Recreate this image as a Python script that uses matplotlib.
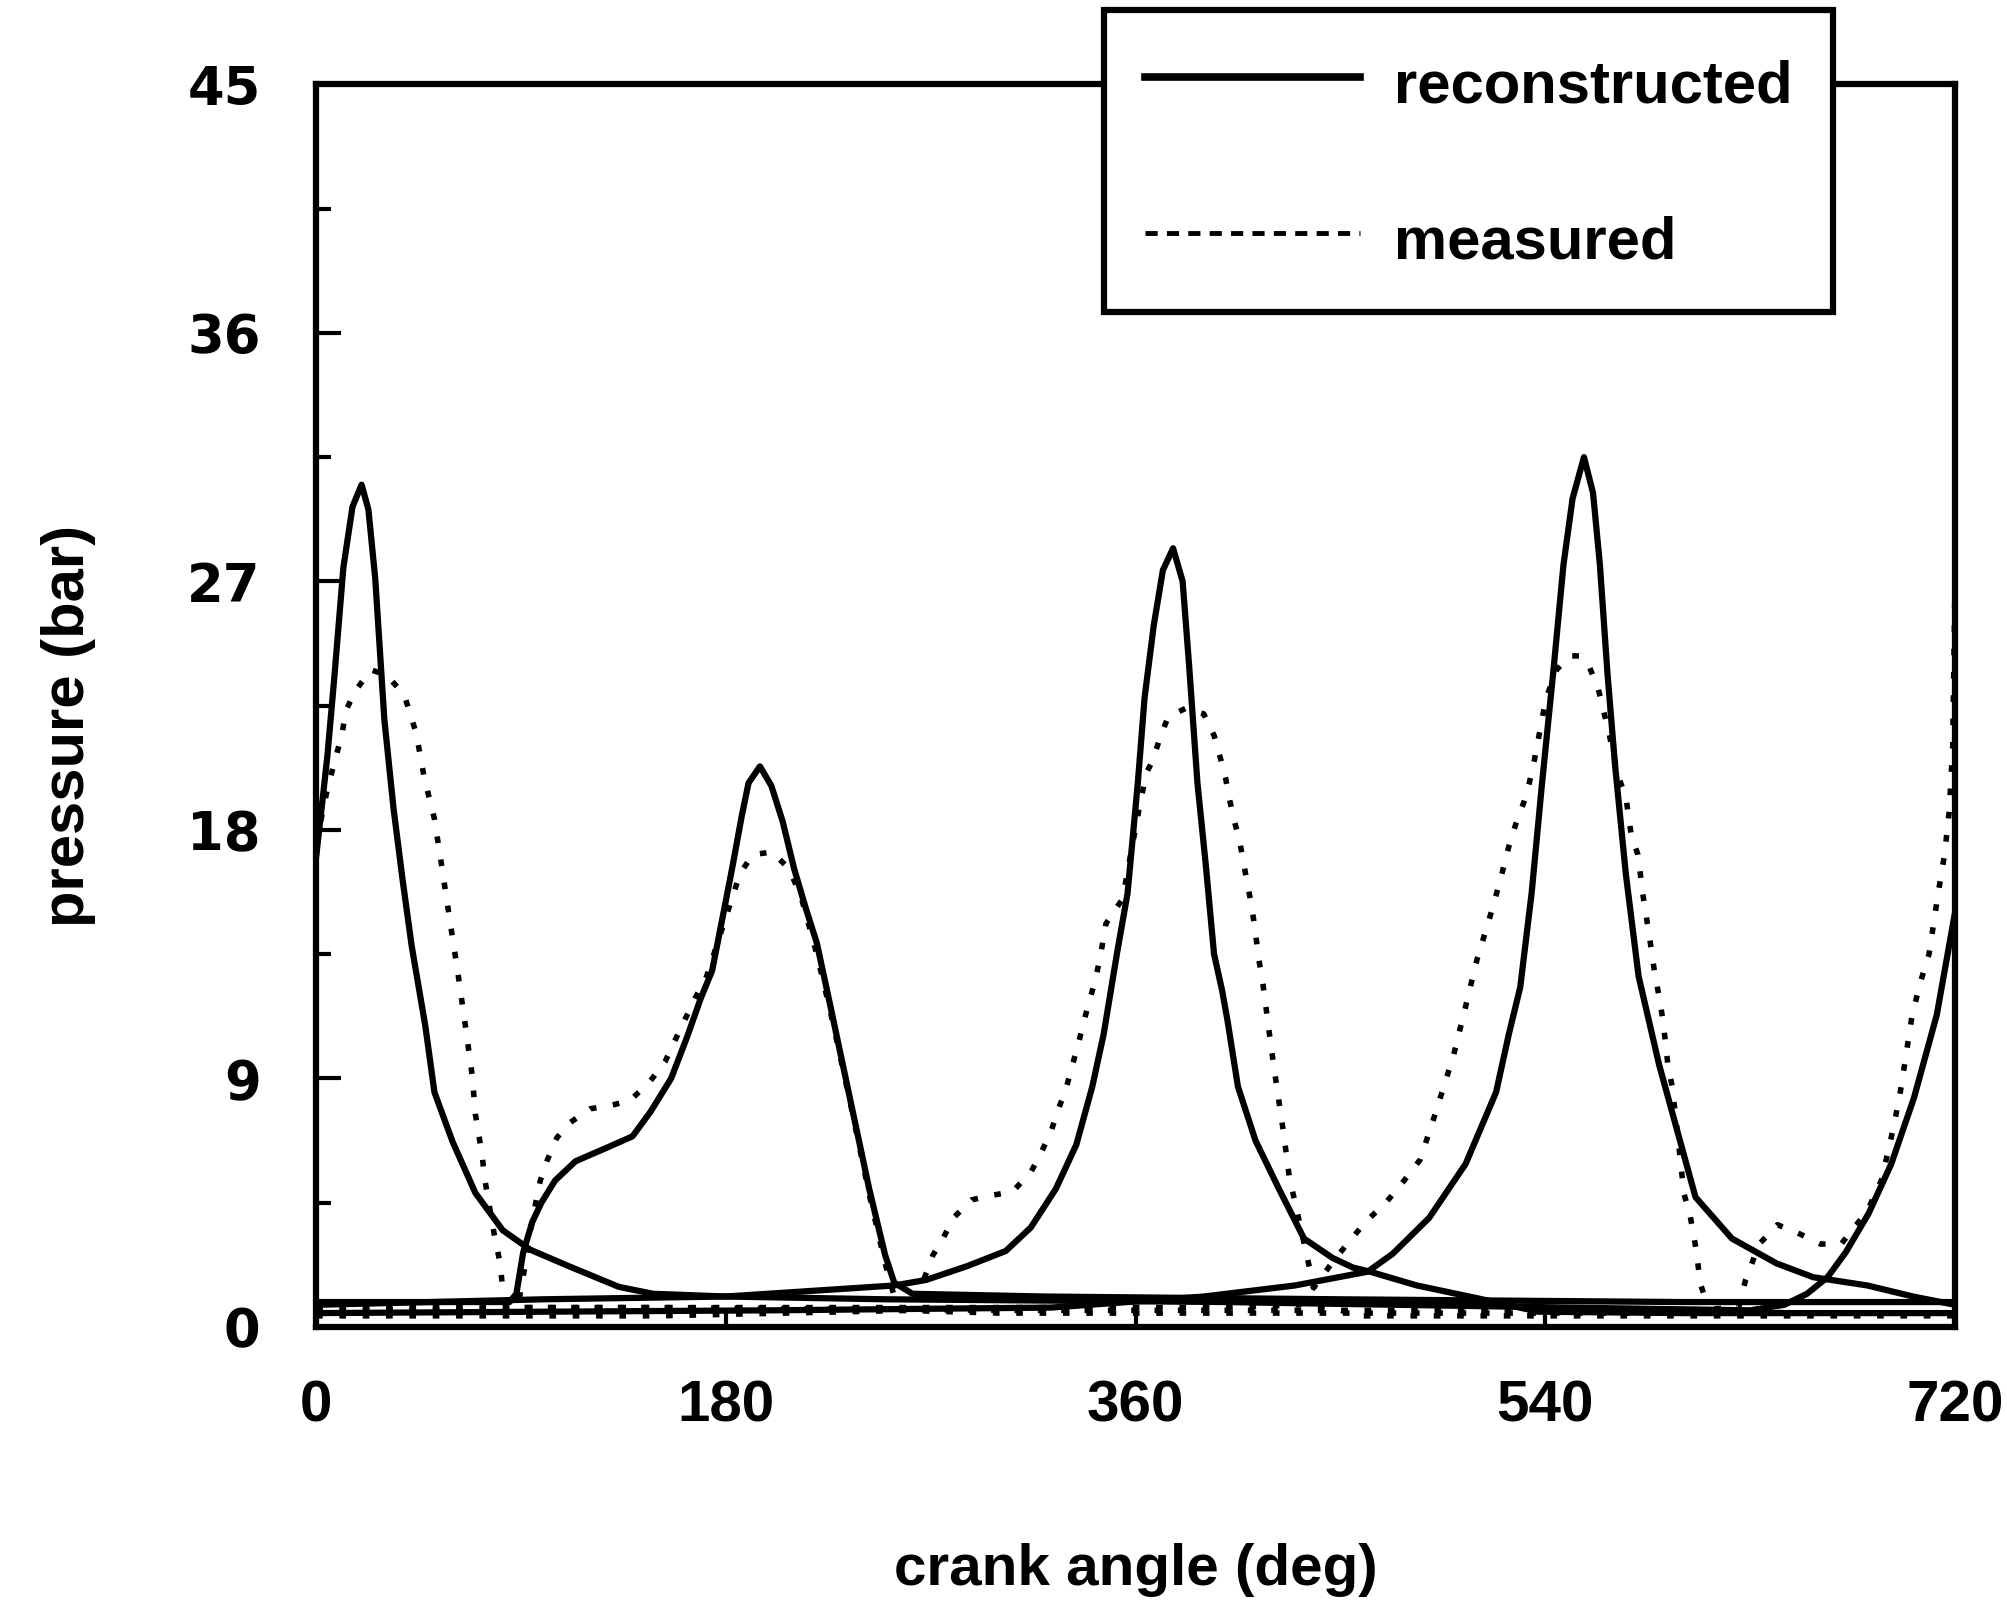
import matplotlib.pyplot as plt
from matplotlib.lines import Line2D

# cylinder pressure vs crank angle
# reconstructed (solid), one trace per cylinder
rec1_x = [0, 3, 5, 8, 12, 16, 20, 23, 26, 30, 34, 38, 42, 48, 52, 60, 70, 82, 94, 111, 133, 148,
          180, 250, 400, 550, 630, 645, 655, 664, 672, 682, 692, 702, 712, 720]
rec1_y = [17.0, 19.2, 20.7, 23.5, 27.5, 29.7, 30.5, 29.6, 27.1, 22.0, 18.8, 16.2, 13.8, 10.9, 8.5, 6.7,
          4.85, 3.5, 2.8, 2.2, 1.45, 1.2, 1.1, 1.0, 0.9, 0.7, 0.6, 0.8, 1.2, 1.8, 2.7, 4.1, 5.9, 8.3,
          11.3, 15.0]

rec2_x = [0, 40, 85, 88, 91, 95, 99, 105, 114, 128, 139, 147, 156, 163, 169, 174, 179, 183, 187, 190,
          195, 200, 205, 210, 215, 220, 226, 235, 243, 250, 254, 262, 320, 450, 600, 720]
rec2_y = [0.9, 0.9, 0.9, 1.2, 2.7, 3.8, 4.5, 5.3, 6.0, 6.5, 6.9, 7.8, 9.0, 10.5, 11.9, 12.9, 15.0,
          16.7, 18.5, 19.7, 20.3, 19.6, 18.3, 16.6, 15.2, 13.9, 11.6, 8.1, 5.0, 2.6, 1.6, 1.2, 1.1,
          1.0, 0.9, 0.9]

rec3_x = [0, 100, 180, 254, 268, 286, 303, 314, 325, 334, 341, 346, 352, 356.5, 361, 364, 368, 372,
          376.5, 380.7, 383.5, 387.2, 390.9, 394.5, 398, 400.4, 405, 412.7, 423, 434, 446.5, 455.5,
          463, 483.6, 510, 537, 600, 720]
rec3_y = [0.8, 1.0, 1.1, 1.5, 1.7, 2.2, 2.75, 3.6, 5.0, 6.6, 8.7, 10.6, 13.6, 15.7, 19.7, 22.8, 25.4,
          27.4, 28.2, 27.0, 24.0, 19.7, 16.7, 13.5, 12.2, 11.1, 8.7, 6.75, 5.0, 3.2, 2.5, 2.15, 2.0,
          1.5, 1.04, 0.55, 0.5, 0.5]

rec4_x = [0, 200, 323, 390, 430, 462, 473, 489, 505, 518.4, 524, 529, 534, 538.6, 543.5, 548, 552,
          557, 561, 564, 567.3, 570.6, 575.4, 581, 590, 598, 606, 622, 641.6, 657.7, 681.5, 701.6, 720]
rec4_y = [0.5, 0.6, 0.7, 1.1, 1.5, 2.0, 2.65, 3.95, 5.9, 8.5, 10.6, 12.3, 15.7, 19.7, 23.7, 27.6,
          30.0, 31.5, 30.2, 27.6, 23.7, 20.4, 16.4, 12.7, 9.5, 7.1, 4.7, 3.2, 2.3, 1.8, 1.5, 1.1, 0.8]

# measured (dotted)
meas1_x = [0, 5, 11.5, 13, 17, 24, 31, 38.7, 44, 47.5, 52, 55, 59, 62, 65.6, 68.6, 70, 73, 74, 78.6,
           80.9, 81.7, 84, 88, 150, 300, 450, 600, 625, 628, 634, 642, 651, 661, 670, 681.5, 687.6,
           691.6, 695.6, 698.6, 701, 704.5, 708.6, 712.6, 715.4, 717.5, 719, 720]
meas1_y = [17.5, 19.5, 21.5, 22.3, 23.0, 23.8, 23.6, 22.9, 21.5, 19.9, 18.4, 16.8, 14.6, 13.0, 10.9,
           9.1, 7.7, 6.2, 5.4, 3.2, 2.3, 1.6, 0.9, 0.7, 0.7, 0.6, 0.6, 0.6, 0.7, 1.7, 3.0, 3.7, 3.4,
           3.0, 3.0, 4.2, 5.3, 6.7, 8.3, 9.9, 11.2, 12.4, 13.5, 15.7, 17.1, 18.7, 21.0, 27.0]

meas2_x = [0, 50, 86, 89, 92, 94.8, 98.5, 101.4, 105.8, 111.6, 120.4, 128.5, 138, 146.8, 153.3, 158.4,
           166.5, 171.6, 186.2, 191.7, 200.3, 207.7, 213, 220, 226, 235, 243, 250, 254, 258, 300, 500,
           720]
meas2_y = [0.6, 0.6, 0.6, 0.9, 2.3, 3.8, 5.3, 6.0, 6.85, 7.4, 7.9, 8.0, 8.2, 8.9, 9.6, 10.5, 11.9,
           12.7, 16.4, 17.1, 17.2, 16.6, 15.6, 13.5, 11.4, 8.0, 4.8, 2.3, 1.1, 0.6, 0.5, 0.5, 0.5]

meas3_x = [0, 150, 262, 266, 271, 274.8, 280, 288, 296, 306, 314, 318.5, 323, 325.7, 329.4, 332,
           334.7, 339, 341.8, 344.3, 347, 354.3, 362.3, 365, 367.5, 371, 374.4, 382, 390, 394.6, 397.6,
           399.5, 401.3, 403.5, 405.7, 407.5, 409, 410.9, 412.5, 414, 416, 419.8, 422.4, 425, 427.6,
           430.4, 436, 440, 460, 720]
meas3_y = [0.4, 0.4, 0.6, 1.5, 2.6, 3.1, 3.95, 4.6, 4.75, 4.9, 5.6, 6.3, 7.1, 7.8, 8.6, 9.4, 10.2,
           11.6, 12.4, 13.3, 14.6, 15.5, 19.1, 20.1, 20.5, 21.4, 22.1, 22.4, 22.2, 21.4, 20.5, 19.9,
           19.1, 18.3, 17.6, 16.8, 16.1, 15.3, 14.4, 13.4, 12.4, 10.0, 8.5, 7.05, 5.4, 4.4, 2.3, 0.8,
           0.4, 0.4]

meas4_x = [0, 200, 400, 432, 440, 447, 454, 461, 470, 478, 485, 491.6, 499.6, 505, 510, 515.5, 520,
           524, 527.4, 530.6, 533, 535.4, 540.3, 545, 550.6, 555, 559.4, 563.3, 568, 572, 575.4, 577.7,
           580.7, 583, 586, 588, 590.6, 592, 594, 595.8, 601, 603.5, 605, 606.5, 608, 612, 650, 720]
meas4_y = [0.7, 0.7, 0.7, 0.8, 1.6, 2.4, 3.1, 3.8, 4.5, 5.3, 6.05, 7.7, 9.8, 11.6, 13.3, 14.8, 16.1,
           17.4, 18.3, 19.0, 19.7, 20.6, 22.75, 23.8, 24.3, 24.3, 23.9, 23.1, 21.5, 19.95, 19.2, 17.85,
           17.1, 15.6, 14.0, 12.85, 11.7, 10.9, 9.4, 8.7, 4.8, 4.1, 3.4, 2.7, 1.6, 0.6, 0.5, 0.5]

x_ticks = [0, 180, 360, 540, 720]
y_ticks = [0, 9, 18, 27, 36, 45]
y_minor = [4.5, 13.5, 22.5, 31.5, 40.5]
labels = ["reconstructed", "measured"]

DOTS = (0, (1.2, 3.0))


def main():
    plt.rcParams['font.family'] = ['Liberation Sans', 'DejaVu Sans']
    plt.rcParams['font.weight'] = 'bold'
    plt.rcParams['axes.labelweight'] = 'bold'

    fig = plt.figure(figsize=(20.08, 16.16), dpi=100)
    ax = fig.add_axes([0.1574, 0.1789, 0.8162, 0.7689])

    recs = [(rec1_x, rec1_y), (rec2_x, rec2_y), (rec3_x, rec3_y), (rec4_x, rec4_y)]
    meas = [(meas1_x, meas1_y), (meas2_x, meas2_y), (meas3_x, meas3_y), (meas4_x, meas4_y)]

    for x, y in meas:
        ax.plot(x, y, color='black', lw=4, linestyle=DOTS)
    for x, y in recs:
        ax.plot(x, y, color='black', lw=4.5, solid_joinstyle='round')

    ax.set_xlim(0, 720)
    ax.set_ylim(0, 45)

    ax.set_xticks(x_ticks, [str(v) for v in x_ticks])
    ax.set_yticks(y_ticks, [str(v) for v in y_ticks], fontfamily='DejaVu Sans')
    ax.set_yticks(y_minor, minor=True)

    ax.tick_params(axis='y', which='major', direction='in', length=18, width=3, pad=40, labelsize=38)
    ax.tick_params(axis='y', which='minor', direction='in', length=11, width=3)
    ax.tick_params(axis='x', which='major', direction='in', length=12, width=3, pad=38, labelsize=42)

    for sp in ax.spines.values():
        sp.set_linewidth(4.5)
        sp.set_color('black')

    ax.set_xlabel("crank angle (deg)", fontsize=42, fontweight='bold')
    ax.xaxis.set_label_coords(0.5, -0.174)
    ax.set_ylabel("pressure (bar)", fontsize=43, fontweight='bold')
    ax.yaxis.set_label_coords(-0.134, 0.484)

    handles = [Line2D([], [], color='black', lw=5.5),
               Line2D([], [], color='black', lw=3.5, linestyle=(0, (2.5, 1.9)))]
    leg = ax.legend(handles, labels, loc='upper left', bbox_to_anchor=(0.481, 1.060),
                    borderaxespad=0, fontsize=43, handlelength=3.6, handleheight=1.3,
                    handletextpad=0.57, labelspacing=1.52, borderpad=0.68, frameon=True,
                    fancybox=False, edgecolor='black', facecolor='white', framealpha=1)
    leg.get_frame().set_linewidth(4.5)

    fig.savefig("out.png", dpi=100)


if __name__ == '__main__':
    main()
